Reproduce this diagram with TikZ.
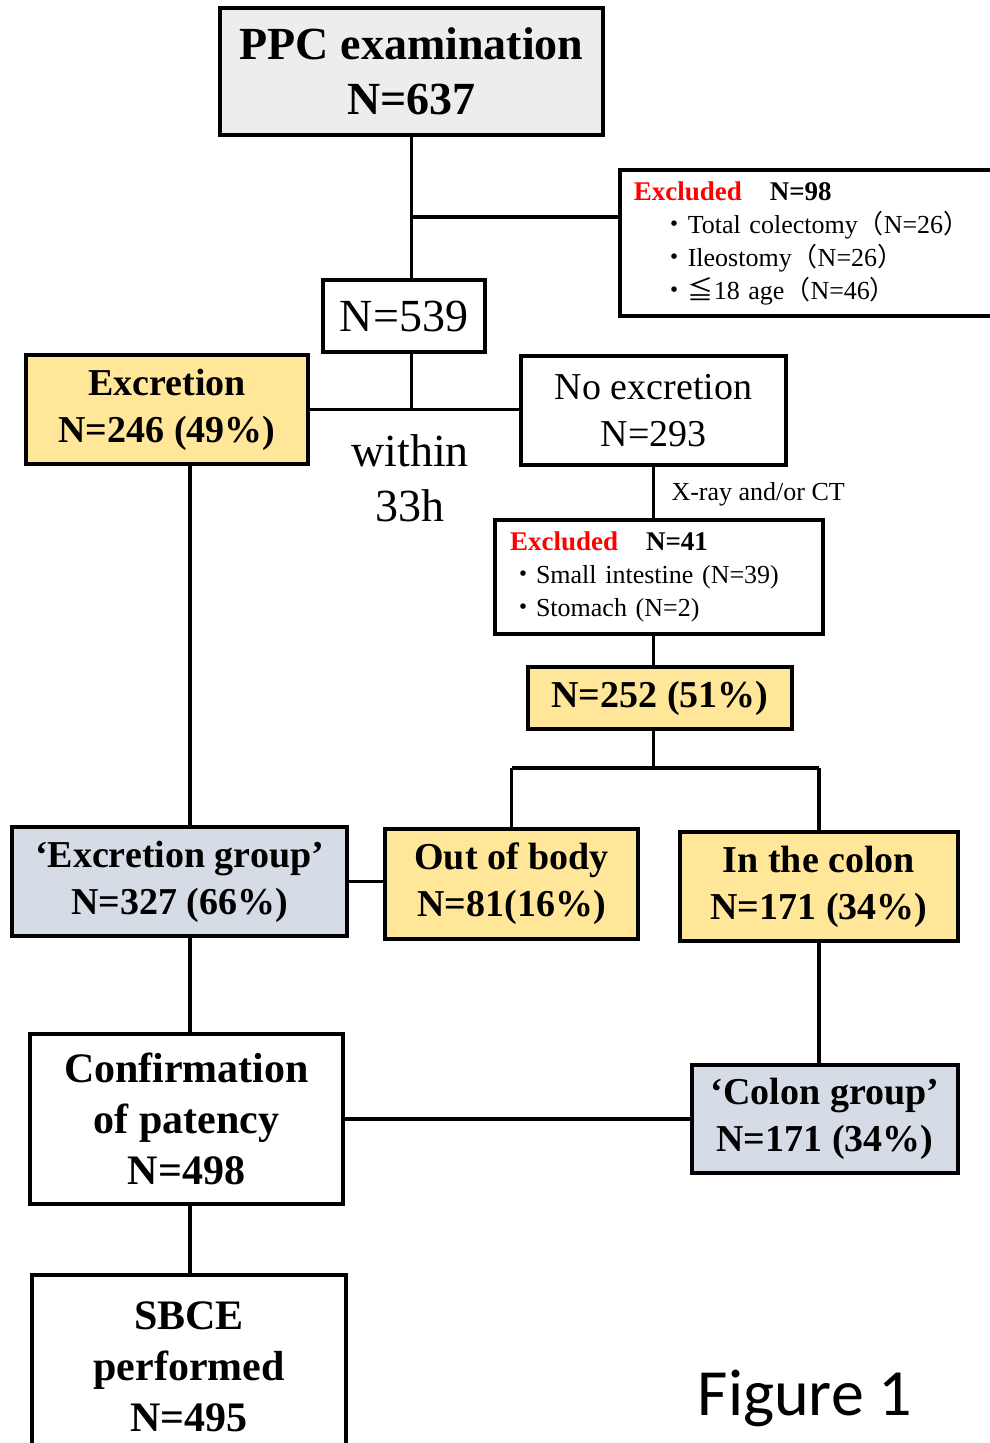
\documentclass[tikz,border=0pt]{standalone}
\usepackage{fontspec}
\setmainfont{Liberation Serif}
\newfontfamily\cjkfont{Noto Sans CJK JP}
\newfontfamily\figfont{Carlito}
\usetikzlibrary{calc}
\definecolor{boxyellow}{HTML}{FFE699}
\definecolor{boxgray}{HTML}{EDEDED}
\definecolor{boxblue}{HTML}{D6DCE5}
\newcommand{\bul}{{\cjkfont ・}}
\newcommand{\lpar}{{\cjkfont （}}
\newcommand{\rpar}{{\cjkfont ）}}
\tikzset{
	box/.style={draw, line width=3.5pt, align=center, inner sep=0pt},
	link/.style={line width=3.5pt},
	bigfont/.style={font=\fontsize{46}{55}\selectfont},
	midfont/.style={font=\fontsize{38}{47}\selectfont},
	confont/.style={font=\fontsize{42}{51}\selectfont\bfseries},
	smallfont/.style={font=\fontsize{26}{33}\selectfont},
	exclbox/.style={box, smallfont, align=left, inner xsep=15pt}
}

\begin{document}
\begin{tikzpicture}[x=1pt, y=-1pt]
	\useasboundingbox (0,0) rectangle (990,1443);
	\clip (0,0) rectangle (990,1443);
	\node[box, bigfont, fill=boxgray, minimum width=383, minimum height=127] (ppc) at (411.5,71.5) {\bfseries PPC examination\\\bfseries N=637};
	\node[exclbox, anchor=west, text width=390, minimum height=146, inner xsep=14pt] (ex98) at (618,243)
		{{\fontsize{27}{33}\selectfont\bfseries\color{red}Excluded}\hspace{28pt}{\fontsize{27}{33}\selectfont\bfseries N=98}\\
		\hspace{28pt}\bul Total colectomy\lpar N=26\rpar\\
		\hspace{28pt}\bul Ileostomy\lpar N=26\rpar\\
		\hspace{28pt}\bul{\cjkfont ≦}18 age\lpar N=46\rpar};
	\node[box, bigfont, minimum width=162, minimum height=72] (n539) at (404,316) {N=539};
	\node[box, midfont, fill=boxyellow, minimum width=282, minimum height=109] (exc) at (167,409.5) {\bfseries Excretion\\\bfseries N=246 (49\%)};
	\node[box, midfont, minimum width=265, minimum height=109] (noexc) at (653.5,410.5) {No excretion\\N=293};
	\node[bigfont, align=center] (within) at (410,478) {within\\33h};
	\node[smallfont, anchor=west] (xray) at (668,494) {X-ray and/or CT};
	\node[exclbox, text width=298, minimum height=114] (ex41) at (659,577)
		{{\fontsize{27}{33}\selectfont\bfseries\color{red}Excluded}\hspace{28pt}{\fontsize{27}{33}\selectfont\bfseries N=41}\\
		\bul Small intestine (N=39)\\
		\bul Stomach (N=2)};
	\node[box, midfont, fill=boxyellow, minimum width=264, minimum height=62] (n252) at (660,698) {\bfseries N=252 (51\%)};
	\node[box, midfont, fill=boxyellow, minimum width=253, minimum height=110] (out) at (511.5,884) {\bfseries Out of body\\\bfseries N=81(16\%)};
	\node[box, midfont, fill=boxyellow, minimum width=278, minimum height=109] (colon) at (819,886.5) {\bfseries In the colon\\\bfseries N=171 (34\%)};
	\node[box, midfont, fill=boxblue, minimum width=335, minimum height=109] (exg) at (179.5,881.5) {\bfseries ‘Excretion group’\\\bfseries N=327 (66\%)};
	\node[box, confont, minimum width=313, minimum height=170] (conf) at (186.5,1119) {Confirmation\\of patency\\N=498};
	\node[box, midfont, fill=boxblue, minimum width=266, minimum height=108] (cg) at (825,1119) {\bfseries ‘Colon group’\\\bfseries N=171 (34\%)};
	\node[box, confont, minimum width=314, minimum height=184] (sbce) at (189,1367) {SBCE\\performed\\N=495};
	\node[font=\figfont\fontsize{66}{72}\selectfont] (fig) at (805,1398) {Figure 1};

	\coordinate (j1) at (411.5,217);
	\coordinate (lc) at (190,0);
	\draw[link] (ppc.south) -- (ppc.south |- n539.north);
	\draw[link] (j1) -- (j1 -| ex98.west);
	\draw[link] (n539.south -| j1) -- (exc.east -| j1);
	\draw[link] (exc.east) -- (exc.east -| noexc.west);
	\draw[link] (noexc.south) -- (noexc.south |- ex41.north);
	\draw[link] (ex41.south -| noexc.south) -- (noexc.south |- n252.north);
	\draw[link] (n252.south -| noexc.south) -- ++(0,37) coordinate (j2);
	\draw[link] (j2 -| out.north) -- (j2 -| colon.north);
	\draw[link] (j2 -| out.north) -- (out.north);
	\draw[link] (j2 -| colon.north) -- (colon.north);
	\draw[link] (exc.south -| lc) -- (exg.north -| lc);
	\draw[link] (exg.east) -- (exg.east -| out.west);
	\draw[link] (exg.south -| lc) -- (conf.north -| lc);
	\draw[link] (colon.south) -- (colon.south |- cg.north);
	\draw[link] (conf.east) -- (conf.east -| cg.west);
	\draw[link] (conf.south -| lc) -- (sbce.north -| lc);
\end{tikzpicture}
\end{document}
